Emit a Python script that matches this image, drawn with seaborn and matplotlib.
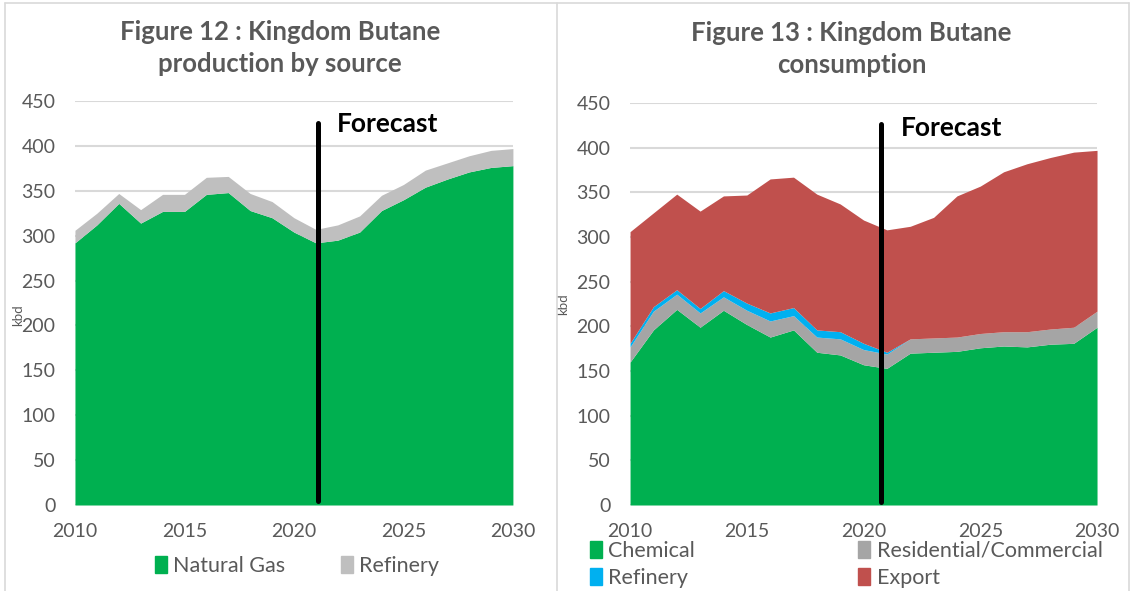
import numpy as np
import matplotlib.pyplot as plt
import seaborn as sns
from matplotlib.patches import Patch
from matplotlib.lines import Line2D

years = list(range(2010, 2031))

# Figure 12 - production by source (kbd)
natural_gas = [292, 312, 336, 314, 327, 327, 346, 348, 328, 320, 304, 292, 295, 304, 328, 340, 354, 363, 371, 376, 378]
refinery_prod = [14, 13, 11, 15, 19, 19, 19, 18, 19, 18, 16, 15, 17, 18, 17, 17, 19, 18, 18, 19, 19]

# Figure 13 - consumption (kbd)
chemical = [160, 196, 219, 199, 218, 202, 188, 196, 171, 168, 157, 153, 170, 171, 172, 176, 178, 177, 180, 181, 199]
residential = [17, 21, 17, 16, 15, 16, 18, 16, 17, 18, 17, 16, 16, 16, 16, 16, 16, 17, 17, 18, 18]
refinery_cons = [4, 5, 5, 5, 7, 8, 9, 9, 8, 8, 7, 2, 0, 0, 0, 0, 0, 0, 0, 0, 0]
total_cons = [306, 327, 348, 329, 346, 347, 365, 367, 348, 337, 319, 308, 312, 322, 346, 357, 373, 382, 389, 395, 397]
export = [t - c - r - f for t, c, r, f in zip(total_cons, chemical, residential, refinery_cons)]

FORECAST_LEFT = 2021.1
FORECAST_RIGHT = 2020.75

GREEN = '#00B050'
LIGHT_GREY = '#BFBFBF'
MID_GREY = '#A5A5A5'
BLUE = '#00B0F0'
RED = '#C0504D'
TXT = '#595959'

sns.set_theme(style='white')
plt.rcParams['font.family'] = ['Lato', 'DejaVu Sans']

fig = plt.figure(figsize=(11.34, 5.91), dpi=100)
ax1 = fig.add_axes([0.0661, 0.1455, 0.3862, 0.6836])
ax2 = fig.add_axes([0.5556, 0.1455, 0.4118, 0.6802])


def style_axes(ax):
    ax.set_xlim(2010, 2030)
    ax.set_ylim(0, 450)
    ax.set_yticks(np.arange(0, 451, 50))
    ax.set_xticks(range(2010, 2031, 5))
    ax.grid(axis='y', color='#D9D9D9', linewidth=1.5)
    ax.grid(axis='x', visible=False)
    ax.set_axisbelow(True)
    sns.despine(ax=ax, left=True, bottom=True)
    ax.tick_params(axis='both', colors=TXT, labelsize=14, length=0)
    ax.tick_params(axis='y', pad=14)
    ax.tick_params(axis='x', pad=13)
    ax.set_ylabel('kbd', fontsize=9.5, color=TXT)


style_axes(ax1)
ax1.stackplot(years, natural_gas, refinery_prod, colors=[GREEN, LIGHT_GREY], linewidth=0, zorder=2)
ax1.plot([FORECAST_LEFT, FORECAST_LEFT], [5, 426], color='black', lw=3.6, zorder=3)
ax1.text(FORECAST_LEFT + 0.85, 424, 'Forecast', fontsize=19, fontweight='bold', color='black', va='center')
ax1.yaxis.set_label_coords(-0.115, 0.47)

style_axes(ax2)
ax2.stackplot(years, chemical, residential, refinery_cons, export,
              colors=[GREEN, MID_GREY, BLUE, RED], linewidth=0, zorder=2)
ax2.plot([FORECAST_RIGHT, FORECAST_RIGHT], [3, 427], color='black', lw=3.6, zorder=3)
ax2.text(FORECAST_RIGHT + 0.85, 422, 'Forecast', fontsize=19, fontweight='bold', color='black', va='center')
ax2.yaxis.set_label_coords(-0.13, 0.5)

fig.text(0.247, 0.919, 'Figure 12 : Kingdom Butane\nproduction by source', ha='center', va='center',
         fontsize=18.5, fontweight='bold', color=TXT, linespacing=1.4)
fig.text(0.751, 0.917, 'Figure 13 : Kingdom Butane\nconsumption', ha='center', va='center',
         fontsize=18.5, fontweight='bold', color=TXT, linespacing=1.4)

leg1 = fig.legend(handles=[Patch(color=GREEN, label='Natural Gas'), Patch(color=LIGHT_GREY, label='Refinery')],
                  loc='center', bbox_to_anchor=(0.262, 0.042), ncol=2, frameon=False, fontsize=15.5,
                  handlelength=0.55, handleheight=0.85, handletextpad=0.3, columnspacing=2.6,
                  labelcolor=TXT)
leg2 = fig.legend(handles=[Patch(color=GREEN, label='Chemical'), Patch(color=BLUE, label='Refinery'),
                           Patch(color=MID_GREY, label='Residential/Commercial'), Patch(color=RED, label='Export')],
                  loc='center left', bbox_to_anchor=(0.503, 0.045), ncol=2, frameon=False, fontsize=15.5,
                  handlelength=0.55, handleheight=0.85, handletextpad=0.3, columnspacing=7.6,
                  labelspacing=0.32, labelcolor=TXT)

# panel frame and divider
for coords in [([0.004, 0.004], [0.0, 0.995]), ([0.004, 0.996], [0.995, 0.995]),
               ([0.491, 0.491], [0.0, 0.995]), ([0.996, 0.996], [0.0, 0.995])]:
    fig.add_artist(Line2D(coords[0], coords[1], color='#D9D9D9', lw=1.2, transform=fig.transFigure))

fig.savefig('out.png', dpi=100)
